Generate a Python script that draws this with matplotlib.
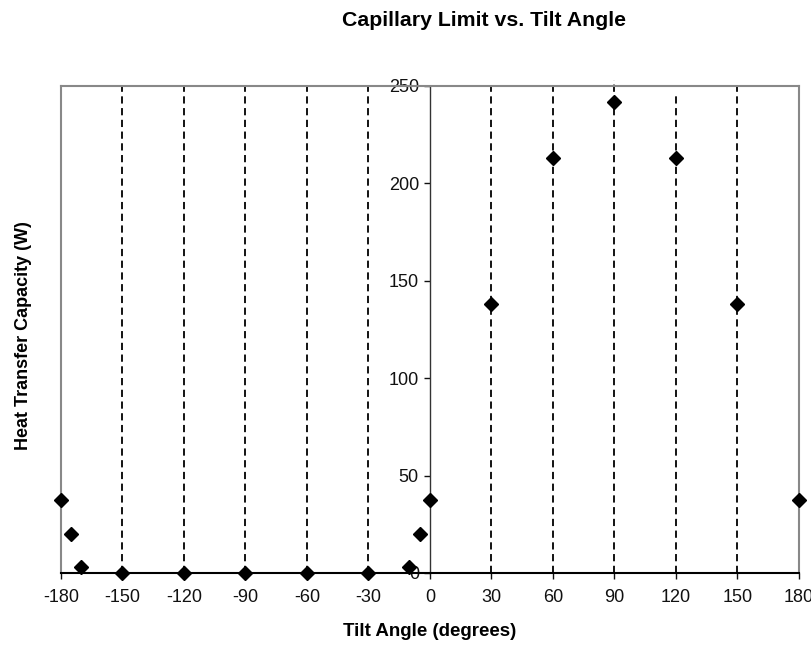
import matplotlib
matplotlib.use('Agg')
import matplotlib.pyplot as plt

plt.rcParams['font.family'] = ['Liberation Sans', 'DejaVu Sans']
plt.rcParams['axes.unicode_minus'] = False

# data
angle = [-180, -175, -170, -150, -120, -90, -60, -30, -10, -5, 0, 30, 60, 90, 120, 150, 180]
capacity = [37.5, 20, 3, 0, 0, 0, 0, 0, 3, 20, 37.5, 138, 213, 242, 213, 138, 37.5]

guide_x = [-150, -120, -90, -60, -30, 30, 60, 90, 120, 150]
guide_top = [250, 250, 250, 250, 250, 250, 250, 253, 247, 250]

xticks = list(range(-180, 181, 30))
yticks = [0, 50, 100, 150, 200, 250]

fig = plt.figure(figsize=(8.11, 6.5), dpi=100)
ax = fig.add_axes([0.0752, 0.1185, 0.91, 0.7492])

# dashed guide lines
for gx, gt in zip(guide_x, guide_top):
    ax.plot([gx, gx], [0, gt], color='black', lw=1.3, ls=(0, (4, 2.5)), clip_on=False, zorder=2)

ax.plot(angle, capacity, ls='none', marker='D', ms=7, color='black', clip_on=False, zorder=4)

ax.set_xlim(-180, 180)
ax.set_ylim(0, 250)

# y axis sits at x = 0, frame drawn in grey
ax.spines['left'].set_position(('data', 0))
ax.spines['left'].set_color('#333333')
ax.spines['left'].set_linewidth(1.0)
ax.spines['bottom'].set_color('black')
ax.spines['bottom'].set_linewidth(1.5)
ax.spines['bottom'].set_zorder(3)
for s in ['top', 'right']:
    ax.spines[s].set_color('#888888')
    ax.spines[s].set_linewidth(1.5)
ax.plot([0, 0], [0, 1], transform=ax.transAxes, color='#888888', lw=1.5, clip_on=False, zorder=1)

ax.set_xticks(xticks)
ax.set_yticks(yticks)
ax.tick_params(axis='x', direction='out', length=4.5, width=1, pad=7, labelsize=13, colors='#111111')
ax.tick_params(axis='y', direction='out', length=4, width=1, pad=4, labelsize=13, colors='#111111')

ax.set_xlabel('Tilt Angle (degrees)', fontsize=13.5, fontweight='bold', labelpad=12)
fig.text(0.029, 0.483, 'Heat Transfer Capacity (W)', rotation=90, fontsize=13,
         fontweight='bold', ha='center', va='center')
fig.text(0.597, 0.969, 'Capillary Limit vs. Tilt Angle', fontsize=15.3,
         fontweight='bold', ha='center', va='center')

fig.savefig('out.png', dpi=100)
